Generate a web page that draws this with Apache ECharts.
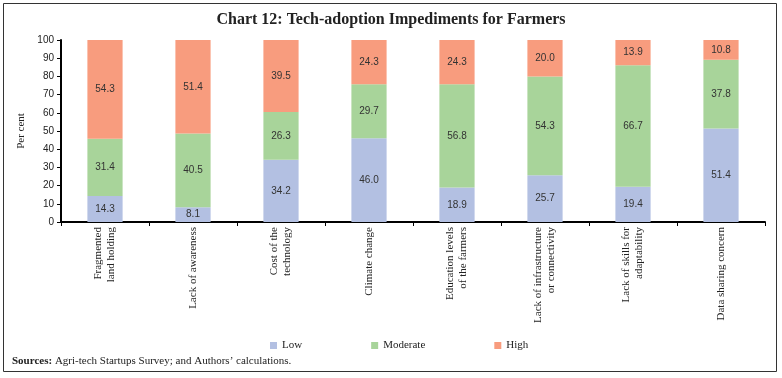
<!DOCTYPE html>
<html>
<head>
<meta charset="utf-8">
<script src="https://cdn.jsdelivr.net/npm/echarts@6/dist/echarts.min.js"></script>
<style>
html,body{margin:0;padding:0;background:#fff;}
#chart{width:782px;height:378px;}
</style>
</head>
<body>
<div id="chart"></div>
<script>
var categories = [
  "Fragmented\nland holding",
  "Lack of awareness",
  "Cost of the\ntechnology",
  "Climate change",
  "Education levels\nof the farmers",
  "Lack of infrastructure\nor connectivity",
  "Lack of skills for\nadaptability",
  "Data sharing concern"
];
var lowValues = [14.3, 8.1, 34.2, 46.0, 18.9, 25.7, 19.4, 51.4];
var moderateValues = [31.4, 40.5, 26.3, 29.7, 56.8, 54.3, 66.7, 37.8];
var highValues = [54.3, 51.4, 39.5, 24.3, 24.3, 20.0, 13.9, 10.8];
var yTicks = [0, 10, 20, 30, 40, 50, 60, 70, 80, 90, 100];

var serif = '"Liberation Serif", "DejaVu Serif", serif';
var sans = '"Liberation Sans", "DejaVu Sans", sans-serif';

var chart = echarts.init(document.getElementById('chart'));

function mkSeries(name, data, color) {
  return {
    name: name,
    type: 'bar',
    stack: 'total',
    barWidth: '40%',
    data: data,
    itemStyle: { color: color },
    label: {
      show: true,
      position: 'inside',
      color: '#333',
      fontFamily: sans,
      fontSize: 10,
      formatter: function (p) { return p.value.toFixed(1); }
    },
    emphasis: { disabled: true }
  };
}

chart.setOption({
  animation: false,
  title: {
    text: 'Chart 12: Tech-adoption Impediments for Farmers',
    left: 'center',
    top: 7,
    textStyle: { fontFamily: serif, fontSize: 16, fontWeight: 'bold', color: '#222' }
  },
  legend: {
    left: 265,
    top: 335,
    itemWidth: 7,
    itemHeight: 7,
    itemGap: 69,
    icon: 'rect',
    textStyle: { fontFamily: serif, fontSize: 11, color: '#222' },
    data: ['Low', 'Moderate', 'High']
  },
  grid: { left: 61, right: 17, top: 40, bottom: 156 },
  xAxis: {
    type: 'category',
    data: categories,
    axisLine: { lineStyle: { color: '#000', width: 2 } },
    axisTick: { show: true, length: 4, lineStyle: { color: '#000' } },
    axisLabel: {
      rotate: 90,
      interval: 0,
      fontFamily: serif,
      fontSize: 11,
      color: '#222',
      margin: 5,
      lineHeight: 13
    }
  },
  yAxis: {
    type: 'value',
    min: yTicks[0],
    max: yTicks[yTicks.length - 1],
    interval: 10,
    name: 'Per cent',
    nameLocation: 'middle',
    nameGap: 34,
    nameTextStyle: { fontFamily: serif, fontSize: 11, color: '#222' },
    axisLine: { show: true, lineStyle: { color: '#000', width: 2 } },
    axisTick: { show: true, length: 4, lineStyle: { color: '#000' } },
    splitLine: { show: false },
    axisLabel: { fontFamily: sans, fontSize: 10, color: '#222', margin: 7 }
  },
  series: [
    mkSeries('Low', lowValues, '#b3c0e2'),
    mkSeries('Moderate', moderateValues, '#a8d49a'),
    mkSeries('High', highValues, '#f89c7e')
  ],
  graphic: [
    {
      type: 'rect',
      shape: { x: 3.5, y: 3.5, width: 773, height: 368 },
      style: { fill: 'none', stroke: '#333', lineWidth: 1 },
      silent: true
    },
    {
      type: 'text',
      left: 12,
      top: 356,
      style: {
        text: '{b|Sources:} Agri-tech Startups Survey; and Authors\u2019 calculations.',
        fontFamily: serif,
        fontSize: 11,
        fill: '#222',
        rich: { b: { fontFamily: serif, fontSize: 11, fontWeight: 'bold', fill: '#222' } }
      }
    }
  ]
});
</script>
</body>
</html>
